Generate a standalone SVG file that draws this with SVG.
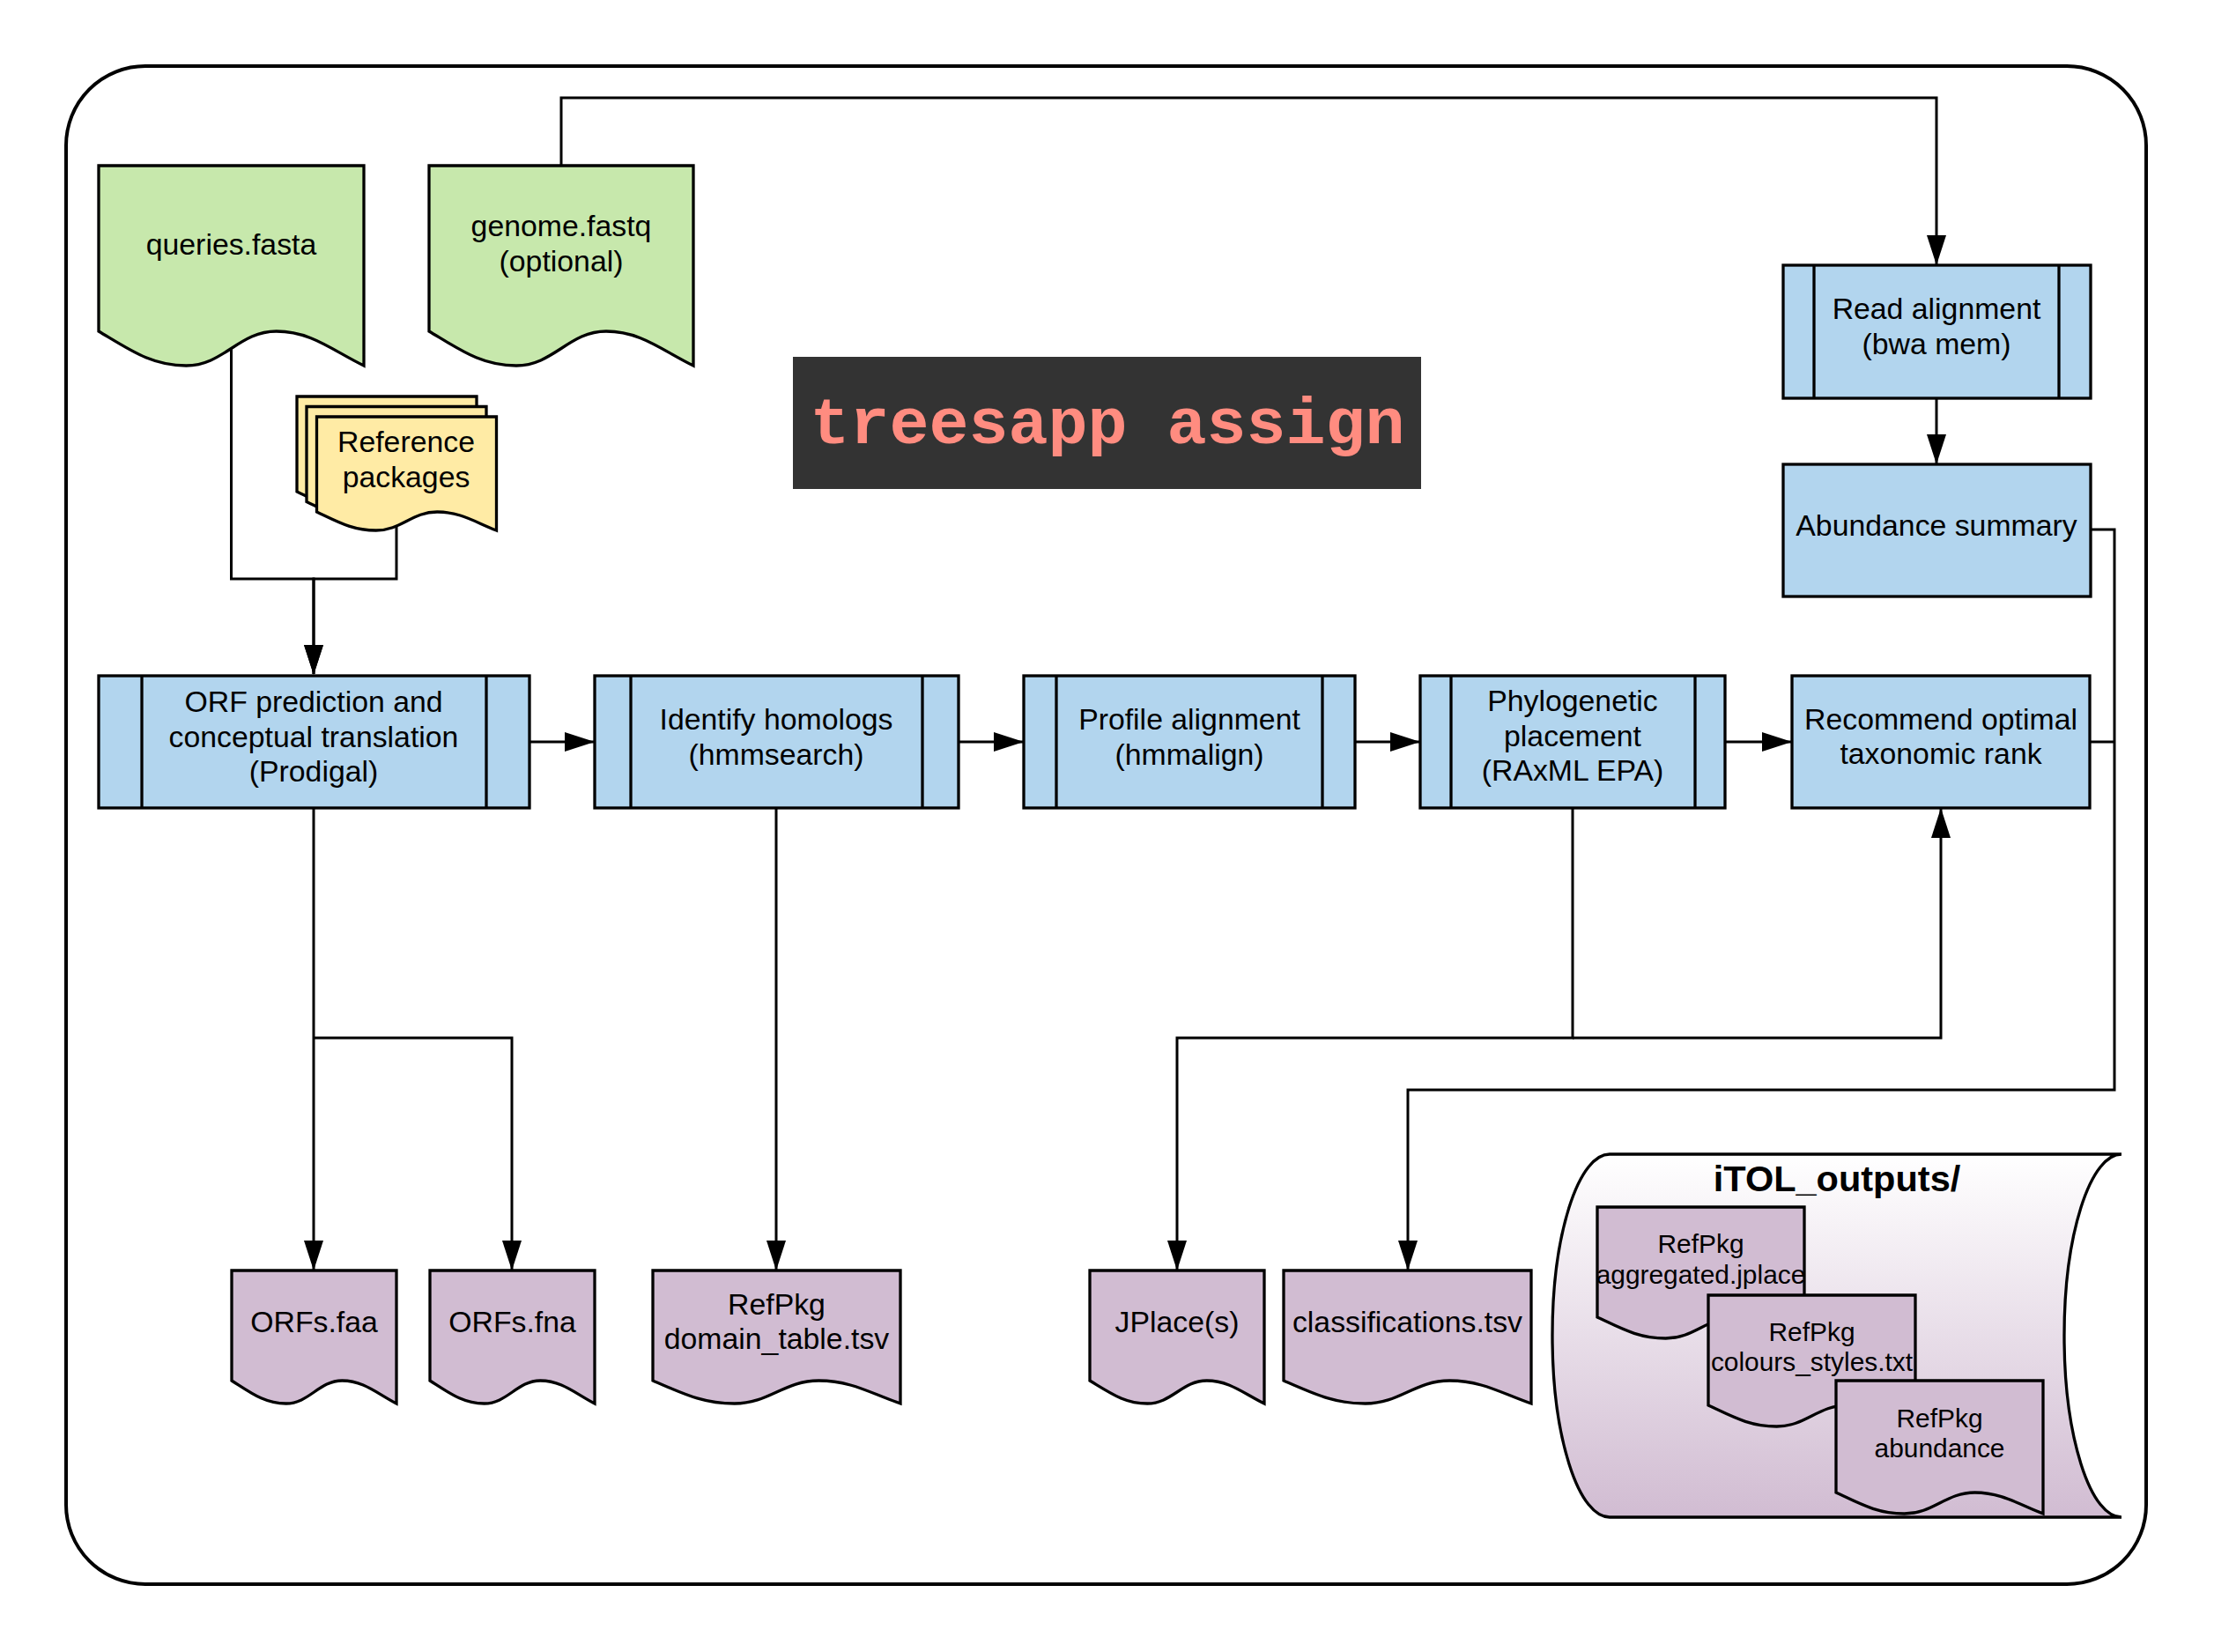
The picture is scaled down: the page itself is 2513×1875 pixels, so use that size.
<svg xmlns="http://www.w3.org/2000/svg" width="2513" height="1875" viewBox="0 0 2513 1875">
<defs>
<style>
.frame{fill:#FFFFFF;stroke:#000;stroke-width:4}
.inp{fill:#C7E8AC;stroke:#000;stroke-width:3.3}
.ref{fill:#FFEBA5;stroke:#000;stroke-width:3.3}
.proc{fill:#B2D5EE;stroke:#000;stroke-width:3.3}
.out{fill:#D1BCD2;stroke:#000;stroke-width:3.3}
.div{fill:none;stroke:#000;stroke-width:3.3}
.edge{fill:none;stroke:#000;stroke-width:3}
.t{font-family:"Liberation Sans",Arial,Helvetica,sans-serif;font-size:33.8px;fill:#000;text-anchor:middle}
.ts{font-family:"Liberation Sans",Arial,Helvetica,sans-serif;font-size:29.9px;fill:#000;text-anchor:middle}
.tb{font-family:"Liberation Sans",Arial,Helvetica,sans-serif;font-size:41.5px;font-weight:bold;fill:#000;text-anchor:middle}
.title{font-family:"Liberation Mono","Courier New",monospace;font-size:75px;font-weight:bold;fill:#FF8C80;text-anchor:middle}
</style>
<marker id="arr" markerUnits="userSpaceOnUse" markerWidth="34" markerHeight="22" refX="33" refY="11" orient="auto">
<path d="M0,0 L34,11 L0,22 Z" fill="#000"/>
</marker>
<linearGradient id="itolGrad" x1="0" y1="0" x2="0" y2="1">
<stop offset="0" stop-color="#FFFFFF"/>
<stop offset="1" stop-color="#D1BCD2"/>
</linearGradient>
</defs>

<rect class="frame" x="75" y="75" width="2361" height="1723" rx="90" ry="90"/>

<g id="connectors">
<path class="edge" d="M262.5,396 V657 H356 V765" marker-end="url(#arr)"/>
<path class="edge" d="M450,594 V657 H356 V765" marker-end="url(#arr)"/>
<path class="edge" d="M637,188 V111 H2198 V300" marker-end="url(#arr)"/>
<path class="edge" d="M2198,452 V526" marker-end="url(#arr)"/>
<path class="edge" d="M2373,601 H2400 V1237 H1598 V1441" marker-end="url(#arr)"/>
<path class="edge" d="M2372,842 H2400"/>
<path class="edge" d="M601,842 H674" marker-end="url(#arr)"/>
<path class="edge" d="M1088,842 H1161" marker-end="url(#arr)"/>
<path class="edge" d="M1538,842 H1611" marker-end="url(#arr)"/>
<path class="edge" d="M1958,842 H2033" marker-end="url(#arr)"/>
<path class="edge" d="M356,917 V1441" marker-end="url(#arr)"/>
<path class="edge" d="M356,1178 H581 V1441" marker-end="url(#arr)"/>
<path class="edge" d="M881,917 V1441" marker-end="url(#arr)"/>
<path class="edge" d="M1785,917 V1178 H1336 V1441" marker-end="url(#arr)"/>
<path class="edge" d="M1785,1178 H2203 V918" marker-end="url(#arr)"/>
</g>

<g id="queries">
<path class="inp" d="M112,188 H413 V415 C376.9,397.4 352.8,376 313.7,376 C271.5,376 253.5,415 211.3,415 C172.2,415 148.1,397.5 112,376 Z"/>
<text class="t" x="262.5" y="289">queries.fasta</text>
</g>

<g id="genome">
<path class="inp" d="M487,188 H787 V415 C751,397.4 727,376 688,376 C646,376 628,415 586,415 C547,415 523,397.5 487,376 Z"/>
<text class="t" x="637" y="268">genome.fastq</text>
<text class="t" x="637" y="308">(optional)</text>
</g>

<g id="refpkgs">
<path class="ref" d="M337,450 H541 V579 C516.5,569.5 500.2,558 473.7,558 C445.1,558 432.9,579 404.3,579 C377.8,579 361.5,569.5 337,558 Z"/>
<path class="ref" d="M348,461.5 H552 V590.5 C527.5,581 511.2,569.5 484.7,569.5 C456.1,569.5 443.9,590.5 415.3,590.5 C388.8,590.5 372.5,581 348,569.5 Z"/>
<path class="ref" d="M359.5,473 H563.5 V602 C539,592.5 522.7,581 496.2,581 C467.6,581 455.4,602 426.8,602 C400.3,602 384,592.5 359.5,581 Z"/>
<text class="t" x="461" y="513">Reference</text>
<text class="t" x="461" y="553">packages</text>
</g>

<g id="title">
<rect x="900" y="405" width="713" height="150" fill="#333333"/>
<text class="title" x="1257" y="503">treesapp assign</text>
</g>

<g id="readalign">
<rect class="proc" x="2024" y="301" width="349" height="151"/>
<line class="div" x1="2059" y1="301" x2="2059" y2="452"/>
<line class="div" x1="2337" y1="301" x2="2337" y2="452"/>
<text class="t" x="2198" y="362">Read alignment</text>
<text class="t" x="2198" y="402">(bwa mem)</text>
</g>

<g id="abundance">
<rect class="proc" x="2024" y="527" width="349" height="150"/>
<text class="t" x="2198" y="608">Abundance summary</text>
</g>

<g id="orf">
<rect class="proc" x="112" y="767" width="489" height="150"/>
<line class="div" x1="161" y1="767" x2="161" y2="917"/>
<line class="div" x1="552" y1="767" x2="552" y2="917"/>
<text class="t" x="356" y="808">ORF prediction and</text>
<text class="t" x="356" y="848">conceptual translation</text>
<text class="t" x="356" y="887">(Prodigal)</text>
</g>

<g id="homologs">
<rect class="proc" x="675" y="767" width="413" height="150"/>
<line class="div" x1="716" y1="767" x2="716" y2="917"/>
<line class="div" x1="1047" y1="767" x2="1047" y2="917"/>
<text class="t" x="881" y="828">Identify homologs</text>
<text class="t" x="881" y="868">(hmmsearch)</text>
</g>

<g id="profile">
<rect class="proc" x="1162" y="767" width="376" height="150"/>
<line class="div" x1="1199" y1="767" x2="1199" y2="917"/>
<line class="div" x1="1501" y1="767" x2="1501" y2="917"/>
<text class="t" x="1350" y="828">Profile alignment</text>
<text class="t" x="1350" y="868">(hmmalign)</text>
</g>

<g id="phylo">
<rect class="proc" x="1612" y="767" width="346" height="150"/>
<line class="div" x1="1647" y1="767" x2="1647" y2="917"/>
<line class="div" x1="1924" y1="767" x2="1924" y2="917"/>
<text class="t" x="1785" y="807">Phylogenetic</text>
<text class="t" x="1785" y="847">placement</text>
<text class="t" x="1785" y="886">(RAxML EPA)</text>
</g>

<g id="recommend">
<rect class="proc" x="2034" y="767" width="338" height="150"/>
<text class="t" x="2203" y="828">Recommend optimal</text>
<text class="t" x="2203" y="867">taxonomic rank</text>
</g>

<g id="orfs-faa">
<path class="out" d="M263,1442 H450 V1593 C427.6,1581.3 412.6,1567 388.3,1567 C362.1,1567 350.9,1593 324.7,1593 C300.4,1593 285.4,1581.3 263,1567 Z"/>
<text class="t" x="356.5" y="1512">ORFs.faa</text>
</g>

<g id="orfs-fna">
<path class="out" d="M488,1442 H675 V1593 C652.6,1581.3 637.6,1567 613.3,1567 C587.1,1567 575.9,1593 549.7,1593 C525.4,1593 510.4,1581.3 488,1567 Z"/>
<text class="t" x="581.5" y="1512">ORFs.fna</text>
</g>

<g id="domain-table">
<path class="out" d="M741,1442 H1022 V1593 C988.3,1581.3 965.8,1567 929.3,1567 C889.9,1567 873.1,1593 833.7,1593 C797.2,1593 774.7,1581.3 741,1567 Z"/>
<text class="t" x="881.5" y="1492">RefPkg</text>
<text class="t" x="881.5" y="1531">domain_table.tsv</text>
</g>

<g id="jplace">
<path class="out" d="M1237,1442 H1435 V1593 C1411.2,1581.3 1395.4,1567 1369.7,1567 C1341.9,1567 1330.1,1593 1302.3,1593 C1276.6,1593 1260.8,1581.3 1237,1567 Z"/>
<text class="t" x="1336" y="1512">JPlace(s)</text>
</g>

<g id="classifications">
<path class="out" d="M1457,1442 H1738 V1593 C1704.3,1581.3 1681.8,1567 1645.3,1567 C1605.9,1567 1589.1,1593 1549.7,1593 C1513.2,1593 1490.7,1581.3 1457,1567 Z"/>
<text class="t" x="1597.5" y="1512">classifications.tsv</text>
</g>

<g id="itol-outputs">
<path d="M1827,1310 H2408 A65,206 0 0 0 2408,1722 H1827 A65,206 0 0 1 1827,1310 Z" fill="url(#itolGrad)" stroke="#000" stroke-width="3.3"/>
<text class="tb" x="2085" y="1352">iTOL_outputs/</text>
</g>

<g id="itol-jplace">
<path class="out" d="M1813,1370 H2048 V1519 C2019.8,1508.2 2001,1495 1970.5,1495 C1937.6,1495 1923.5,1519 1890.6,1519 C1860,1519 1841.2,1508.2 1813,1495 Z"/>
<text class="ts" x="1930.5" y="1422">RefPkg</text>
<text class="ts" x="1930.5" y="1457">aggregated.jplace</text>
</g>

<g id="itol-colours">
<path class="out" d="M1939,1470 H2174 V1619 C2145.8,1608.2 2127,1595 2096.5,1595 C2063.6,1595 2049.5,1619 2016.6,1619 C1986,1619 1967.2,1608.2 1939,1595 Z"/>
<text class="ts" x="2056.5" y="1522">RefPkg</text>
<text class="ts" x="2056.5" y="1556">colours_styles.txt</text>
</g>

<g id="itol-abundance">
<path class="out" d="M2084,1567 H2319 V1718 C2290.8,1707.2 2272,1694 2241.5,1694 C2208.6,1694 2194.5,1718 2161.6,1718 C2131,1718 2112.2,1707.2 2084,1694 Z"/>
<text class="ts" x="2201.5" y="1620">RefPkg</text>
<text class="ts" x="2201.5" y="1654">abundance</text>
</g>
</svg>
